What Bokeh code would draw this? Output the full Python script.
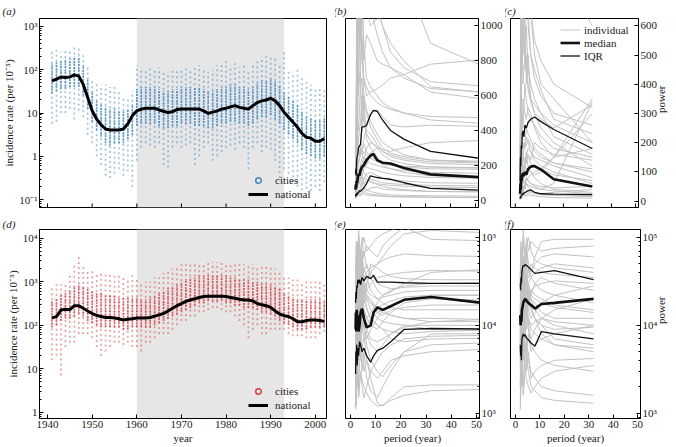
import math
from bokeh.plotting import figure
from bokeh.layouts import row, column
from bokeh.models import (Range1d, FixedTicker, BoxAnnotation, Legend, LegendItem,
                          CustomJSTickFormatter)
from bokeh.embed import file_html
from bokeh.resources import INLINE

FONT = "Liberation Serif"
FS = "11px"
BLUE = "#3a84c2"
RED = "#e03a3e"
GREY = "#c2c2c2"

# ---------------- data: panels (a) and (d) (log10 incidence per year) ----------------
years = list(range(1941, 2003))

a_national = [1.74, 1.78, 1.83, 1.82, 1.83, 1.88, 1.85, 1.66, 1.36, 1.05,
              0.86, 0.73, 0.63, 0.61, 0.61, 0.61, 0.63, 0.75, 0.94, 1.05,
              1.09, 1.11, 1.11, 1.11, 1.07, 1.04, 1.01, 1.03, 1.08, 1.09,
              1.09, 1.09, 1.09, 1.09, 1.05, 0.99, 1.02, 1.05, 1.09, 1.11,
              1.14, 1.17, 1.13, 1.11, 1.09, 1.17, 1.24, 1.28, 1.30, 1.34,
              1.28, 1.17, 1.02, 0.90, 0.79, 0.67, 0.53, 0.44, 0.42, 0.35,
              0.35, 0.41]
a_hi = [2.45, 2.45, 2.4, 2.5, 2.45, 2.55, 2.5, 2.4, 2.1, 1.8,
        1.7, 1.65, 1.65, 1.6, 1.6, 1.5, 1.4, 1.35, 1.5, 2.1,
        2.05, 2.0, 2.1, 2.0, 2.05, 2.0, 1.95, 2.05, 2.0, 2.05,
        2.1, 2.0, 2.05, 2.1, 2.0, 1.95, 2.0, 2.1, 2.15, 2.2,
        2.1, 2.15, 2.05, 2.1, 2.0, 2.1, 2.2, 2.3, 2.35, 2.3,
        2.25, 2.1, 2.4, 2.0, 1.95, 2.0, 1.8, 1.75, 1.65, 1.6,
        1.55, 1.6]
a_lo = [0.75, 0.8, 1.0, 1.0, 1.1, 0.85, 1.05, 0.9, 0.5, 0.3,
        0.0, -0.2, -0.45, -0.5, -0.4, -0.3, -0.45, -0.35, -0.7, -0.1,
        0.2, 0.3, 0.25, 0.2, 0.3, -0.2, -0.25, 0.2, 0.3, 0.2,
        0.25, 0.3, -0.2, 0.0, 0.2, 0.3, -0.1, 0.0, 0.1, 0.2,
        0.25, 0.15, 0.3, 0.2, -0.3, 0.2, 0.3, 0.1, 0.2, 0.15,
        -0.1, -0.5, -0.3, -0.4, -0.6, -0.7, -0.9, -0.75, -0.8, -0.7,
        -0.8, -0.6]
a_q1 = [1.45, 1.5, 1.55, 1.55, 1.6, 1.6, 1.6, 1.4, 1.1, 0.8,
        0.6, 0.45, 0.3, 0.25, 0.3, 0.3, 0.3, 0.4, 0.5, 0.7,
        0.75, 0.75, 0.75, 0.75, 0.7, 0.65, 0.65, 0.7, 0.7, 0.75,
        0.75, 0.75, 0.7, 0.7, 0.7, 0.65, 0.65, 0.7, 0.75, 0.75,
        0.8, 0.8, 0.75, 0.75, 0.7, 0.75, 0.85, 0.9, 0.9, 0.95,
        0.85, 0.75, 0.6, 0.5, 0.4, 0.3, 0.15, 0.05, 0.0, -0.05,
        -0.05, 0.0]
a_q3 = [2.15, 2.2, 2.2, 2.25, 2.25, 2.3, 2.3, 2.1, 1.8, 1.5,
        1.3, 1.2, 1.15, 1.1, 1.1, 1.05, 1.05, 1.1, 1.2, 1.55,
        1.6, 1.6, 1.6, 1.6, 1.55, 1.5, 1.5, 1.55, 1.55, 1.6,
        1.6, 1.6, 1.6, 1.6, 1.55, 1.5, 1.5, 1.55, 1.6, 1.6,
        1.65, 1.65, 1.6, 1.6, 1.55, 1.6, 1.7, 1.75, 1.75, 1.8,
        1.75, 1.65, 1.5, 1.4, 1.3, 1.2, 1.05, 0.95, 0.9, 0.85,
        0.85, 0.9]

d_national = [2.17, 2.2, 2.35, 2.37, 2.36, 2.45, 2.45, 2.39, 2.33, 2.27,
              2.23, 2.2, 2.18, 2.18, 2.17, 2.15, 2.12, 2.14, 2.15, 2.17,
              2.17, 2.17, 2.18, 2.21, 2.24, 2.27, 2.33, 2.39, 2.45, 2.5,
              2.55, 2.58, 2.61, 2.64, 2.66, 2.67, 2.67, 2.67, 2.67, 2.66,
              2.64, 2.62, 2.6, 2.58, 2.58, 2.56, 2.5, 2.47, 2.45, 2.41,
              2.33, 2.26, 2.22, 2.2, 2.15, 2.08, 2.08, 2.11, 2.12, 2.12,
              2.11, 2.09]
d_hi = [2.85, 2.95, 2.95, 3.0, 3.2, 3.4, 3.6, 3.4, 3.3, 3.3,
        3.2, 3.25, 3.2, 3.2, 3.2, 3.15, 3.1, 3.1, 3.15, 3.1,
        3.0, 3.0, 3.0, 3.1, 3.1, 3.2, 3.25, 3.3, 3.35, 3.4,
        3.4, 3.45, 3.45, 3.45, 3.45, 3.45, 3.45, 3.45, 3.45, 3.45,
        3.45, 3.45, 3.4, 3.4, 3.4, 3.4, 3.35, 3.35, 3.35, 3.35,
        3.3, 3.2, 3.15, 3.1, 3.05, 3.05, 3.0, 3.05, 3.0, 3.0,
        3.0, 2.95]
d_lo = [1.2, 1.3, 0.85, 1.5, 1.6, 1.6, 1.8, 1.8, 1.8, 1.7,
        1.5, 1.3, 1.4, 1.5, 1.6, 1.6, 1.55, 1.6, 1.5, 1.5,
        1.4, 1.6, 1.6, 1.7, 1.8, 1.8, 1.8, 1.9, 2.0, 2.1,
        2.1, 2.2, 2.2, 2.3, 2.3, 2.35, 2.4, 2.4, 2.35, 2.3,
        2.3, 2.2, 2.1, 2.0, 1.7, 1.9, 2.0, 1.8, 1.8, 1.9,
        1.9, 1.9, 1.9, 1.8, 1.75, 1.75, 1.75, 1.7, 1.7, 1.7,
        1.8, 1.85]
d_q1 = [1.95, 2.0, 2.1, 2.15, 2.15, 2.2, 2.25, 2.2, 2.1, 2.05,
        2.0, 1.95, 1.95, 1.95, 1.95, 1.95, 1.9, 1.9, 1.95, 1.95,
        1.95, 1.95, 1.95, 2.0, 2.05, 2.1, 2.15, 2.2, 2.25, 2.3,
        2.35, 2.4, 2.45, 2.5, 2.5, 2.55, 2.55, 2.55, 2.55, 2.5,
        2.5, 2.45, 2.45, 2.4, 2.4, 2.4, 2.35, 2.3, 2.3, 2.25,
        2.2, 2.1, 2.05, 2.0, 1.95, 1.9, 1.9, 1.9, 1.95, 1.95,
        1.95, 1.95]
d_q3 = [2.55, 2.6, 2.7, 2.75, 2.8, 2.9, 2.95, 2.9, 2.85, 2.8,
        2.75, 2.75, 2.7, 2.7, 2.7, 2.65, 2.65, 2.65, 2.65, 2.65,
        2.6, 2.6, 2.65, 2.7, 2.75, 2.8, 2.85, 2.9, 2.95, 3.0,
        3.05, 3.1, 3.1, 3.15, 3.15, 3.15, 3.15, 3.15, 3.15, 3.15,
        3.1, 3.1, 3.05, 3.05, 3.05, 3.0, 3.0, 2.95, 2.95, 2.95,
        2.9, 2.85, 2.75, 2.7, 2.65, 2.6, 2.6, 2.6, 2.6, 2.6,
        2.6, 2.55]

# ---------------- data: spectra ----------------
per_full = [2, 2.13, 2.29, 2.46, 2.67, 2.91, 3.2, 3.56, 4, 4.57, 5.33, 6.4, 8, 9.14,
            10.67, 12.8, 16, 21.33, 32, 64]
per_sub = [2, 2.13, 2.29, 2.46, 2.67, 2.91, 3.2, 3.56, 4, 4.57, 5.33, 6.4, 8, 10.67, 16, 32]
per_ind_full = [2, 2.29, 2.67, 3.2, 4, 4.57, 5.33, 6.4, 8, 10.67, 12.8, 16, 21.33, 32, 64]
per_ind_sub = [2, 2.29, 2.67, 3.2, 4, 4.57, 5.33, 6.4, 8, 10.67, 16, 32]

b_median = [60, 90, 70, 110, 100, 130, 150, 140, 170, 190, 200, 230, 255, 265, 230, 215, 210, 185, 148, 122]
b_upper = [150, 180, 140, 230, 250, 260, 300, 310, 320, 420, 420, 430, 490, 515, 510, 460, 400, 350, 280, 215]
b_lower = [20, 35, 25, 40, 30, 45, 40, 55, 50, 60, 70, 95, 140, 135, 130, 125, 120, 100, 68, 50]
b_individual = [
    [30, 60, 120, 80, 200, 150, 90, 120, 110, 90, 80, 70, 60, 50, 45],
    [50, 300, 900, 1500, 700, 400, 600, 350, 300, 250, 200, 180, 160, 140, 130],
    [20, 40, 30, 60, 80, 100, 70, 60, 50, 40, 35, 30, 28, 25, 22],
    [100, 600, 2000, 1200, 900, 1400, 800, 950, 900, 800, 780, 760, 720, 620, 560],
    [60, 150, 400, 300, 250, 500, 600, 520, 450, 380, 330, 300, 260, 230, 210],
    [10, 20, 50, 40, 60, 90, 120, 150, 160, 140, 130, 120, 110, 100, 95],
    [80, 200, 600, 1100, 2500, 1800, 1300, 1100, 1000, 1040, 1200, 1500, 1300, 900, 700],
    [40, 100, 250, 200, 300, 260, 350, 420, 500, 520, 480, 430, 420, 430, 420],
    [30, 80, 150, 180, 120, 200, 250, 230, 210, 200, 190, 180, 170, 160, 150],
    [15, 25, 40, 35, 30, 45, 60, 55, 70, 75, 65, 60, 55, 50, 48],
    [70, 400, 1200, 600, 800, 950, 700, 600, 620, 640, 660, 700, 720, 780, 820],
    [20, 60, 90, 140, 200, 240, 280, 260, 240, 220, 210, 200, 190, 180, 175],
    [100, 350, 500, 800, 1000, 1300, 1600, 1400, 1200, 1100, 1000, 900, 800, 650, 600],
    [25, 35, 70, 90, 110, 130, 180, 200, 270, 300, 290, 280, 300, 330, 350],
    [50, 90, 200, 350, 450, 600, 500, 380, 340, 300, 260, 230, 210, 190, 180],
    [10, 30, 25, 50, 40, 35, 50, 40, 35, 30, 25, 22, 20, 18, 15],
    [120, 500, 1500, 2000, 1600, 1100, 900, 700, 650, 600, 560, 530, 500, 480, 470],
    [35, 70, 110, 160, 140, 180, 220, 300, 330, 310, 280, 260, 240, 220, 210],
    [20, 50, 80, 100, 90, 110, 130, 120, 100, 95, 90, 85, 80, 75, 70],
    [60, 250, 700, 1300, 900, 1200, 1100, 1300, 1250, 1100, 1000, 850, 760, 680, 640],
    [40, 120, 350, 700, 1200, 900, 600, 500, 420, 350, 300, 270, 250, 230, 220],
    [15, 30, 60, 100, 150, 180, 160, 140, 120, 110, 100, 95, 90, 85, 80],
    [90, 450, 1100, 1700, 1300, 800, 700, 650, 600, 560, 540, 520, 500, 460, 430],
    [25, 45, 90, 120, 180, 160, 200, 190, 180, 170, 160, 150, 140, 130, 125],
    [55, 200, 500, 400, 650, 700, 450, 400, 380, 320, 280, 250, 230, 210, 200],
    [10, 15, 20, 30, 25, 40, 35, 30, 28, 25, 22, 20, 18, 16, 14],
    [70, 300, 800, 1000, 1400, 2000, 1500, 1200, 1100, 950, 850, 760, 700, 640, 610],
    [30, 70, 130, 220, 260, 300, 320, 280, 250, 230, 215, 200, 195, 190, 185],
]

c_median = [25, 60, 40, 85, 70, 90, 95, 85, 100, 90, 110, 118, 120, 108, 75, 50]
c_upper = [70, 150, 120, 190, 180, 230, 240, 220, 260, 250, 270, 280, 288, 272, 245, 180]
c_lower = [8, 15, 10, 20, 18, 25, 22, 28, 30, 32, 36, 38, 30, 25, 24, 22]
c_individual = [
    [20, 40, 80, 60, 100, 150, 120, 100, 80, 60, 40, 30],
    [50, 300, 800, 500, 700, 400, 500, 350, 300, 250, 200, 120],
    [10, 30, 20, 50, 40, 60, 50, 40, 30, 25, 20, 15],
    [80, 500, 1200, 900, 700, 900, 750, 650, 500, 400, 350, 200],
    [30, 60, 100, 150, 200, 250, 230, 210, 180, 160, 130, 100],
    [15, 25, 40, 30, 60, 80, 70, 60, 50, 40, 60, 340],
    [60, 200, 500, 900, 650, 1000, 700, 800, 650, 700, 800, 600],
    [25, 50, 70, 120, 100, 90, 110, 100, 90, 100, 150, 300],
    [40, 150, 300, 250, 400, 350, 300, 280, 260, 220, 180, 150],
    [10, 15, 30, 25, 20, 30, 25, 35, 30, 25, 30, 40],
    [100, 700, 1000, 800, 1100, 700, 650, 500, 420, 360, 300, 260],
    [20, 50, 90, 80, 130, 160, 180, 170, 150, 140, 120, 80],
    [70, 250, 600, 400, 500, 450, 380, 340, 300, 280, 250, 330],
    [15, 30, 60, 40, 50, 70, 80, 90, 100, 110, 150, 350],
    [35, 80, 150, 200, 180, 220, 200, 170, 140, 120, 100, 60],
    [5, 10, 15, 12, 20, 18, 22, 20, 18, 15, 12, 10],
    [120, 600, 900, 1300, 800, 900, 1000, 800, 700, 650, 900, 700],
    [30, 70, 120, 100, 150, 130, 160, 140, 200, 180, 160, 140],
    [45, 120, 200, 350, 300, 280, 320, 300, 250, 200, 150, 180],
    [20, 40, 50, 70, 60, 80, 70, 60, 55, 50, 45, 50],
    [40, 200, 600, 800, 500, 600, 450, 400, 350, 300, 220, 160],
    [10, 20, 35, 50, 45, 60, 55, 50, 45, 40, 35, 25],
    [90, 500, 900, 700, 900, 800, 600, 500, 450, 380, 280, 230],
    [25, 60, 110, 150, 130, 170, 150, 130, 120, 110, 90, 70],
    [55, 250, 500, 650, 450, 500, 400, 350, 330, 300, 260, 200],
    [8, 15, 25, 20, 30, 28, 35, 30, 25, 22, 20, 18],
    [70, 400, 700, 1100, 900, 700, 800, 650, 550, 480, 400, 320],
    [30, 80, 130, 180, 200, 190, 210, 190, 170, 150, 130, 110],
]

# (e), (f): power in thousands
e_median_k = [9, 14, 8.5, 15, 9, 13, 8.5, 10, 14, 15.5, 12, 9.5, 10, 14, 16, 15, 16.5, 19.5, 21, 16.5]
e_upper_k = [18, 24, 20, 28, 27, 33, 30, 33, 29, 35, 32, 36, 34, 37, 31, 31, 31, 30.5, 30, 30]
e_lower_k = [2.8, 5, 4, 6, 3.5, 5.5, 4.5, 6.5, 6, 5, 5.5, 4.5, 3.8, 4.5, 5.2, 5.5, 6.5, 9, 9.2, 9]
e_individual_k = [
    [3, 20, 8, 40, 15, 60, 25, 30, 40, 50, 60, 80, 110, 120, 110],
    [10, 4, 30, 12, 50, 20, 35, 25, 30, 35, 36, 38, 40, 42, 41],
    [2, 8, 3, 15, 6, 10, 12, 8, 6, 5, 6, 8, 10, 9, 8.5],
    [20, 60, 15, 80, 30, 50, 70, 45, 40, 30, 28, 26, 27, 28, 28],
    [5, 15, 40, 10, 25, 8, 15, 12, 10, 9, 11, 14, 18, 20, 19],
    [1.5, 5, 2, 10, 4, 6, 3, 4, 2.5, 1.3, 1.2, 1.5, 2, 2.1, 2.1],
    [40, 10, 90, 30, 70, 100, 60, 80, 70, 60, 80, 100, 130, 95, 90],
    [8, 25, 6, 20, 12, 30, 18, 22, 20, 15, 14, 13, 12, 12, 11.5],
    [15, 5, 20, 50, 18, 12, 25, 15, 12, 10, 9, 7, 6.5, 7, 7.2],
    [3, 10, 25, 8, 35, 15, 9, 6, 4, 3, 2.6, 3.5, 5, 6, 6.5],
    [25, 80, 30, 100, 45, 70, 40, 50, 35, 25, 22, 24, 30, 40, 45],
    [6, 3, 12, 5, 8, 20, 10, 7, 9, 12, 15, 17, 20, 22, 22],
    [12, 35, 10, 25, 60, 30, 45, 35, 25, 20, 18, 16, 15, 15, 15],
    [2, 6, 15, 4, 10, 5, 8, 4, 3, 2.5, 3, 4, 4.5, 5, 5.5],
    [50, 15, 60, 20, 40, 25, 18, 20, 15, 12, 11, 10.5, 10, 10, 10],
    [4, 12, 5, 18, 8, 15, 30, 20, 18, 14, 13, 15, 16, 17, 17],
    [30, 90, 40, 120, 60, 80, 100, 70, 80, 100, 110, 120, 140, 150, 150],
    [1.2, 3, 8, 2, 6, 3, 5, 2.5, 1.8, 1.5, 2, 3, 5, 8, 8],
    [7, 20, 9, 30, 14, 25, 15, 12, 14, 18, 22, 25, 28, 30, 31],
    [18, 7, 25, 10, 20, 14, 20, 16, 12, 10, 9, 8.5, 8, 8.5, 9],
    [9, 30, 12, 45, 18, 40, 22, 28, 50, 45, 40, 36, 34, 33, 33],
    [2.5, 1.2, 4, 1.5, 3, 2, 1.5, 2, 3, 4, 5, 6, 7, 7.5, 7.8],
    [6, 18, 7, 25, 11, 35, 20, 25, 22, 20, 21, 22, 24, 25, 25],
    [3.5, 9, 20, 6, 14, 9, 12, 9, 7, 6.5, 7, 8, 9.5, 11, 12],
    [35, 12, 70, 25, 55, 45, 35, 40, 45, 50, 55, 60, 65, 62, 60],
    [1.1, 2, 4, 1.6, 3, 2.4, 2, 1.7, 1.4, 1.2, 1.25, 1.4, 1.6, 1.8, 1.9],
    [14, 45, 18, 60, 25, 35, 28, 22, 18, 16, 17, 19, 21, 22, 22],
    [4.5, 14, 6, 22, 10, 18, 12, 10, 12, 14, 15, 13, 12, 11, 11],
]
f_median_k = [13, 10, 12, 11, 15, 16, 18, 19, 20, 19, 18, 17, 15.5, 17.5, 18, 20]
f_upper_k = [30, 25, 35, 30, 40, 45, 48, 47, 49, 48, 46, 43, 39, 40, 42, 33]
f_lower_k = [6, 4.5, 5.5, 4, 7, 7.5, 8, 7.5, 7.8, 7.2, 6.8, 6.3, 5.8, 8.5, 8, 7]
f_individual_k = [
    [5, 30, 10, 60, 20, 80, 50, 40, 60, 90, 95, 95],
    [10, 3, 25, 8, 40, 15, 30, 35, 40, 45, 50, 45],
    [2, 8, 3, 12, 5, 7, 4, 3, 2.5, 2, 1.8, 1.6],
    [20, 60, 12, 40, 25, 30, 20, 25, 22, 20, 17, 15],
    [6, 15, 40, 10, 25, 12, 18, 15, 12, 10, 9, 9.5],
    [1.5, 4, 2, 8, 3, 5, 3, 2, 1.8, 1.5, 1.4, 1.3],
    [40, 10, 80, 25, 60, 100, 70, 90, 80, 70, 75, 80],
    [8, 25, 6, 20, 12, 30, 18, 22, 30, 35, 30, 25],
    [15, 5, 20, 45, 18, 12, 25, 15, 12, 8, 6, 5],
    [3, 10, 25, 8, 35, 15, 9, 6, 5, 4, 3.5, 3],
    [25, 80, 30, 100, 45, 70, 40, 50, 45, 40, 38, 35],
    [6, 3, 12, 5, 8, 20, 10, 7, 9, 12, 15, 20],
    [12, 35, 10, 25, 60, 30, 45, 35, 30, 25, 22, 18],
    [2, 6, 15, 4, 10, 5, 8, 5, 6, 7, 8, 10],
    [50, 15, 60, 20, 40, 25, 18, 20, 15, 12, 10, 8],
    [4, 12, 5, 18, 8, 15, 30, 20, 18, 14, 12, 12],
    [30, 90, 40, 120, 60, 80, 100, 70, 55, 50, 45, 40],
    [1.2, 3, 8, 2, 6, 3, 5, 2.5, 3, 3.5, 4, 4.2],
    [7, 20, 9, 30, 14, 25, 15, 12, 14, 18, 22, 28],
    [18, 7, 25, 10, 20, 14, 20, 16, 12, 10, 7, 6],
    [6, 18, 7, 25, 11, 35, 20, 25, 28, 30, 32, 30],
    [3.5, 9, 20, 6, 14, 9, 12, 9, 8, 7, 6, 5.5],
    [35, 12, 70, 25, 55, 45, 35, 40, 50, 60, 65, 60],
    [1.1, 2, 4, 1.6, 3, 2.4, 2, 1.7, 2, 2.5, 3, 3.5],
    [14, 45, 18, 60, 25, 35, 28, 22, 20, 18, 16, 14],
    [4.5, 14, 6, 22, 10, 18, 12, 10, 11, 12, 11, 10],
]

year_ticks = [1940, 1950, 1960, 1970, 1980, 1990, 2000]
period_ticks = [0, 10, 20, 30, 40, 50]
b_ticks = [0, 200, 400, 600, 800, 1000]
c_ticks = [0, 100, 200, 300, 400, 500, 600]

# ---------------- helpers ----------------
LOG_FMT = CustomJSTickFormatter(code="""
const e = Math.round(Math.log10(tick));
const sup = {"-1": "\u207b\u00b9", "2": "\u00b2", "3": "\u00b3", "4": "\u2074", "5": "\u2075"};
if (e === 0) { return "1"; }
if (e === 1) { return "10"; }
return "10" + sup[String(e)];
""")


def pow10(v):
    return [10 ** x for x in v]


def log_ticker(e0, e1):
    major = [10.0 ** e for e in range(e0, e1 + 1)]
    minor = [m * 10.0 ** e for e in range(e0 - 1, e1 + 1) for m in range(2, 10)]
    return FixedTicker(ticks=major, minor_ticks=minor)


def style_axis(ax):
    ax.axis_line_color = "black"
    ax.major_tick_in = 4
    ax.major_tick_out = 0
    ax.minor_tick_in = 2
    ax.minor_tick_out = 0
    ax.major_tick_line_color = "black"
    ax.minor_tick_line_color = "black"
    ax.major_label_text_font = FONT
    ax.major_label_text_font_size = FS
    ax.major_label_text_color = "#222222"
    ax.axis_label_text_font = FONT
    ax.axis_label_text_font_size = FS
    ax.axis_label_text_font_style = "normal"
    ax.axis_label_text_color = "#222222"
    ax.major_label_standoff = 2
    ax.axis_label_standoff = 1


def make_fig(w, h, xr, yr, ytype, yloc, bl, br, bt, bb, label, title_off, title_standoff):
    p = figure(width=w, height=h, x_range=Range1d(*xr), y_range=Range1d(*yr),
               y_axis_type=ytype, y_axis_location=yloc,
               output_backend="svg", toolbar_location=None,
               min_border_left=bl, min_border_right=br,
               min_border_top=bt, min_border_bottom=bb, title=label)
    p.grid.visible = False
    p.outline_line_color = "black"
    p.outline_line_width = 1
    p.outline_line_alpha = 1
    p.background_fill_color = "white"
    p.border_fill_color = "white"
    p.title.text_font = FONT
    p.title.text_font_size = FS
    p.title.text_font_style = "italic"
    p.title.text_color = "#222222"
    p.title.align = "left"
    p.title.offset = title_off
    p.title.standoff = title_standoff
    for ax in list(p.xaxis) + list(p.yaxis):
        style_axis(ax)
    return p


def inner_x_ticks(p, ticks, y0):
    # ticks of the unlabeled bottom axes, pointing into the frame
    p.xaxis.visible = False
    p.ray(x=ticks, y=[y0] * len(ticks), length=4, length_units="screen",
          angle=90, angle_units="deg", line_color="black", line_width=1)


# layout geometry (page has no body margin in Bokeh's template)
W1, W2, W3 = 335, 170, 171
H1, H2 = 215, 231
FH1, FH2 = 190, 189

xr_year = (1938.2, 2002.5)
xr_per = (-2.0, 51.2)


def year_panel(h, bt, bb, yr, lo, q1, q3, hi, nat, color, ticker, label, show_x, tstand):
    p = make_fig(W1, h, xr_year, yr, "log", "left", 39, 9, bt, bb, label, -37, tstand)
    p.add_layout(BoxAnnotation(left=1960, right=1993, fill_color="#e5e6e5", fill_alpha=1,
                               line_color=None, level="underlay"))
    p.segment(x0=years, y0=pow10(lo), x1=years, y1=pow10(hi), line_color=color,
              line_alpha=0.5, line_width=1.6, line_dash="2 3")
    p.segment(x0=years, y0=pow10(q1), x1=years, y1=pow10(q3), line_color=color,
              line_alpha=0.8, line_width=1.6, line_dash="2 1")
    nan = float("nan")
    cities = p.scatter(x=[nan], y=[nan], marker="circle", size=6, fill_color=None,
                       line_color=color, line_width=1.5)
    nat_r = p.line(years, pow10(nat), line_color="black", line_width=3)
    if show_x:
        p.xaxis.ticker = FixedTicker(ticks=year_ticks, minor_ticks=[])
        p.xaxis.axis_label = "year"
    else:
        inner_x_ticks(p, year_ticks, yr[0])
    p.yaxis.ticker = ticker
    p.yaxis.formatter = LOG_FMT
    p.yaxis.axis_label = "incidence rate (per 10\u207b\u2075)"
    leg = Legend(items=[LegendItem(label="cities", renderers=[cities]),
                        LegendItem(label="national", renderers=[nat_r])],
                 location=(209, 6), orientation="vertical",
                 background_fill_alpha=0, border_line_alpha=0,
                 label_text_font=FONT, label_text_font_size=FS, label_text_color="#222222",
                 glyph_width=20, glyph_height=14, label_height=14, label_standoff=7,
                 spacing=0, padding=0, margin=0)
    p.add_layout(leg)
    return p


def spec_panel(w, h, bl, br, bt, bb, fh, yr, ytype, ticker, pm, med, up, lo, pind, ind,
               label, toff, tstand, show_x, power_label, legend):
    p = make_fig(w, h, xr_per, yr, ytype, "right", bl, br, bt, bb, label, toff, tstand)
    ind_r = p.multi_line(xs=[pind] * len(ind), ys=ind, line_color=GREY, line_width=1)
    iqr_r = p.line(pm, up, line_color="#111111", line_width=1.3)
    p.line(pm, lo, line_color="#111111", line_width=1.3)
    med_r = p.line(pm, med, line_color="#111111", line_width=2.6)
    if show_x:
        p.xaxis.ticker = FixedTicker(ticks=period_ticks, minor_ticks=[])
        p.xaxis.axis_label = "period (year)"
    else:
        inner_x_ticks(p, period_ticks, yr[0])
    p.yaxis.ticker = ticker
    if ytype == "log":
        p.yaxis.formatter = LOG_FMT
    if power_label:
        p.yaxis.axis_label = "power"
        for ax in p.yaxis:
            if "axis_label_orientation" in ax.properties():
                ax.axis_label_orientation = math.pi / 2
    if legend:
        leg = Legend(items=[LegendItem(label="individual", renderers=[ind_r]),
                            LegendItem(label="median", renderers=[med_r]),
                            LegendItem(label="IQR", renderers=[iqr_r])],
                     location=(50, fh - 6 - 39), orientation="vertical",
                     background_fill_alpha=0, border_line_alpha=0,
                     label_text_font=FONT, label_text_font_size=FS, label_text_color="#222222",
                     glyph_width=20, glyph_height=13, label_height=13, label_standoff=4,
                     spacing=0, padding=0, margin=0)
        p.add_layout(leg)
    return p


def k(v):
    return [x * 1000 for x in v]


pa = year_panel(H1, 17, 8, (10 ** -1.18, 10 ** 3.18), a_lo, a_q1, a_q3, a_hi, a_national,
                BLUE, log_ticker(-1, 3), "(a)", False, 4)
pd = year_panel(H2, 14, 28, (10 ** -0.14, 10 ** 4.2), d_lo, d_q1, d_q3, d_hi, d_national,
                RED, log_ticker(0, 4), "(d)", True, 0)

pb = spec_panel(W2, H1, 10, 26, 17, 8, FH1, (-42, 1042), "linear",
                FixedTicker(ticks=b_ticks, minor_ticks=[]),
                per_full, b_median, b_upper, b_lower, per_ind_full, b_individual,
                "(b)", -12, 4, False, False, False)
pc = spec_panel(W3, H1, 5, 33, 17, 8, FH1, (-22, 625), "linear",
                FixedTicker(ticks=c_ticks, minor_ticks=[]),
                per_sub, c_median, c_upper, c_lower, per_ind_sub, c_individual,
                "(c)", -7, 4, False, True, True)
pe = spec_panel(W2, H2, 10, 26, 14, 28, FH2, (10 ** 2.94, 10 ** 5.09), "log", log_ticker(3, 5),
                per_full, k(e_median_k), k(e_upper_k), k(e_lower_k), per_ind_full,
                [k(v) for v in e_individual_k], "(e)", -12, 0, True, False, False)
pf = spec_panel(W3, H2, 5, 33, 14, 28, FH2, (10 ** 2.94, 10 ** 5.09), "log", log_ticker(3, 5),
                per_sub, k(f_median_k), k(f_upper_k), k(f_lower_k), per_ind_sub,
                [k(v) for v in f_individual_k], "(f)", -7, 0, True, True, False)

layout = column(row(pa, pb, pc, spacing=0), row(pd, pe, pf, spacing=0), spacing=0)

open("out.html", "w").write(file_html(layout, INLINE))
